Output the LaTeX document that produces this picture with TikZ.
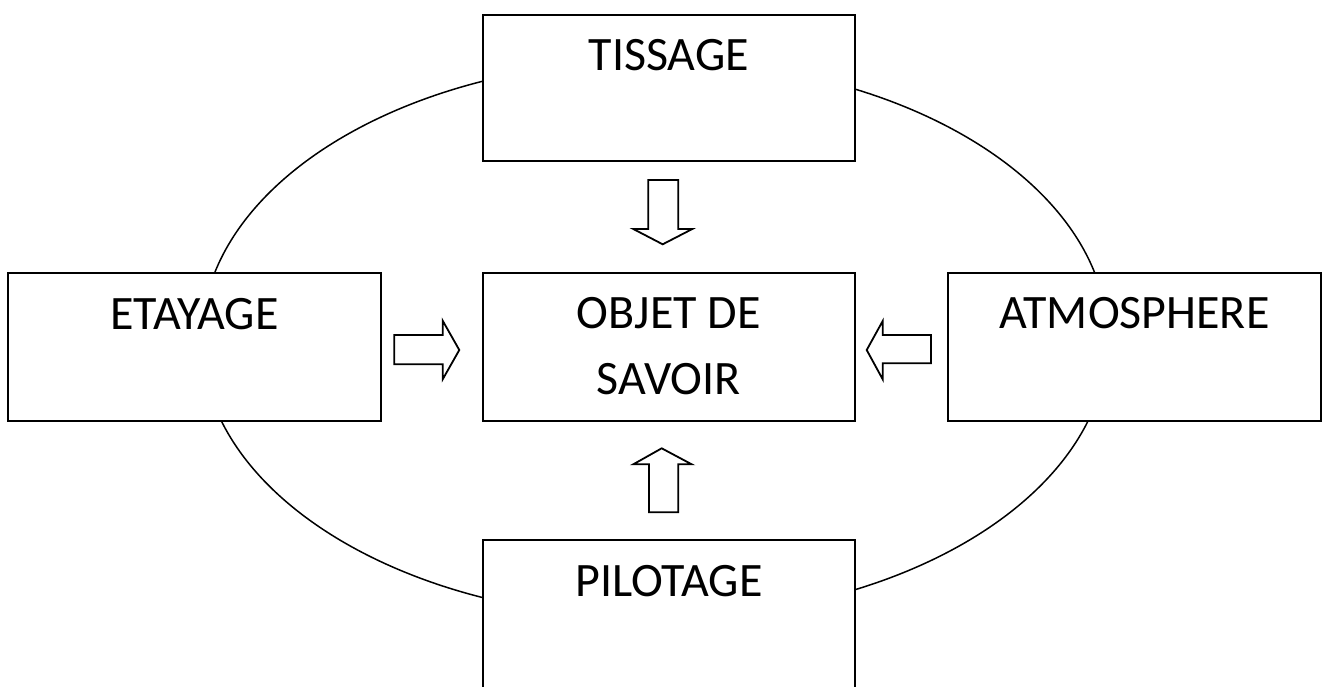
\documentclass[tikz,border=0pt]{standalone}
\usepackage{fontspec}
\setmainfont{Carlito}
\usetikzlibrary{calc}
\tikzset{
  box/.style={draw=black, line width=2pt, fill=white, minimum width=372.3pt, minimum height=148pt, inner sep=0pt},
  lbl/.style={anchor=base, inner sep=0pt, font=\fontsize{48}{65.7}\selectfont, align=center},
  blk/.style={draw=black, line width=1.8pt, fill=white, line join=miter},
  ring/.style={draw=black, line width=1.5pt}
}
\begin{document}
\begin{tikzpicture}[x=1pt, y=-1pt]
\useasboundingbox (0,0) rectangle (1323,686);
\clip (0,0) rectangle (1323,686);
\fill[white] (0,0) rectangle (1323,686);
% ellipse behind the boxes
\coordinate (c) at (654.7,339.4);
\draw[ring] (c) ellipse [x radius=453pt, y radius=279pt];
% boxes
\node[box, minimum height=145.7pt] (tis) at (668.85,87.85) {};
\node[box] (eta) at (194.5,347) {};
\node[box] (obj) at (668.85,347) {};
\node[box] (atm) at (1134.5,347) {};
\node[box] (pil) at (668.85,614) {};
% labels
\node[lbl] (tisl) at ($(tis.north)+(0,56.7)$) {TISSAGE};
\node[lbl] (etal) at ($(eta.north)+(0,57)$) {ETAYAGE};
\node[lbl] (atml) at ($(atm.north)+(0,56)$) {ATMOSPHERE};
\node[lbl, anchor=base] (objl) at ($(obj.north)+(0,56.3)$) {OBJET DE};
\node[lbl, anchor=base] (objl2) at ($(objl.base)+(0,65.7)$) {SAVOIR};
\node[lbl] (pill) at ($(pil.north)+(0,57)$) {PILOTAGE};
% block arrows
\draw[blk] (648.3,180) -- (678.3,180) -- (678.3,229) -- (692.3,229) -- (662.7,244.3) -- (633.3,229) -- (648.3,229) -- cycle;
\draw[blk] (394.3,335) -- (442.7,335) -- (442.7,320.7) -- (459.3,350) -- (442.7,379.3) -- (442.7,364.3) -- (394.3,364.3) -- cycle;
\draw[blk] (931,335) -- (882.7,335) -- (882.7,321) -- (866.7,350) -- (882.7,379.3) -- (882.7,363.3) -- (931,363.3) -- cycle;
\draw[blk] (649,512.3) -- (678.3,512.3) -- (678.3,464.3) -- (691.7,464.3) -- (661.7,448.3) -- (633.3,464.3) -- (649,464.3) -- cycle;
\end{tikzpicture}
\end{document}
